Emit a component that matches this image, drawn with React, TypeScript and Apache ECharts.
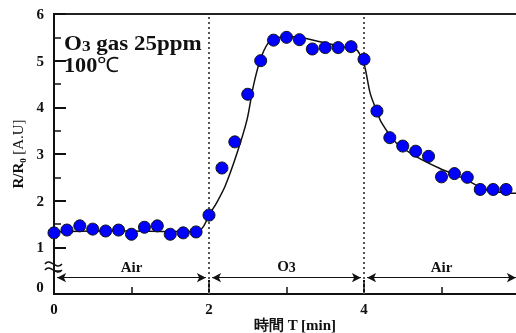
import React, { useEffect, useRef } from "react";
import * as echarts from "echarts";

const times = [0, 0.167, 0.333, 0.5, 0.667, 0.833, 1, 1.167, 1.333, 1.5, 1.667, 1.833, 2, 2.167, 2.333, 2.5, 2.667, 2.833, 3, 3.167, 3.333, 3.5, 3.667, 3.833, 4, 4.167, 4.333, 4.5, 4.667, 4.833, 5, 5.167, 5.333, 5.5, 5.667, 5.833];
const ratios = [1.31, 1.37, 1.46, 1.39, 1.35, 1.37, 1.28, 1.43, 1.46, 1.28, 1.31, 1.33, 1.69, 2.7, 3.26, 4.28, 5.0, 5.44, 5.5, 5.45, 5.25, 5.28, 5.28, 5.3, 5.03, 3.92, 3.35, 3.17, 3.06, 2.95, 2.51, 2.58, 2.5, 2.24, 2.24, 2.24];

const fitTimes = [0, 0.5, 1.0, 1.5, 1.85, 1.93, 2.0, 2.1, 2.21, 2.36, 2.49, 2.57, 2.66, 2.76, 2.85, 3.0, 3.2, 3.5, 3.75, 3.9, 3.95, 4.01, 4.08, 4.16, 4.23, 4.42, 4.68, 4.98, 5.28, 5.54, 5.75, 6.0];
const fitRatios = [1.33, 1.35, 1.35, 1.34, 1.34, 1.45, 1.69, 1.96, 2.32, 3.01, 3.73, 4.44, 5.01, 5.37, 5.47, 5.52, 5.49, 5.38, 5.29, 5.24, 5.12, 4.87, 4.3, 3.94, 3.66, 3.23, 2.94, 2.69, 2.48, 2.26, 2.18, 2.16];

const phaseNames = ["Air", "O3", "Air"];
const phaseStarts = [0, 2, 4];
const phaseEnds = [2, 4, 6];
const gasChanges = [2, 4];
const arrowLevel = 0.35;

const xTicks = [0, 2, 4];
const yTicks = [0, 1, 2, 3, 4, 5, 6];

const FONT = "'Liberation Serif', 'Times New Roman', serif";

export default function App() {
  const ref = useRef<HTMLDivElement>(null);
  useEffect(() => {
    if (!ref.current) return;
    const chart = echarts.init(ref.current, null, { renderer: "svg" });
    const labelRich = {
      o: { fontFamily: FONT, fontWeight: "bold", fontSize: 15, color: "#111" },
      s: { fontFamily: FONT, fontWeight: "bold", fontSize: 14, color: "#111", verticalAlign: "bottom", padding: [4, 0, 0, 0] },
    };
    const arrowData = phaseNames.map((n, i) => [
      {
        name: n,
        coord: [phaseStarts[i] + 0.04, arrowLevel],
        label: {
          show: true,
          position: "middle",
          distance: 3,
          formatter: n === "O3" ? "{o|O}{s|3}" : "{o|" + n + "}",
          rich: labelRich,
        },
      },
      { coord: [Math.min(phaseEnds[i] - 0.04, 5.995), arrowLevel] },
    ]);

    chart.setOption({
      animation: false,
      grid: {
        left: 54,
        top: 14,
        width: 465,
        height: 280,
        show: true,
        borderColor: "#222",
        borderWidth: 2,
        containLabel: false,
        outerBoundsMode: "none",
      },
      xAxis: {
        type: "value",
        min: 0,
        max: 6,
        interval: 2,
        axisLine: { show: true, onZero: false, lineStyle: { color: "#111", width: 2 } },
        axisTick: { show: true, inside: true, length: 14, lineStyle: { color: "#111", width: 2 } },
        minorTick: { show: true, splitNumber: 2, length: 7, lineStyle: { color: "#111", width: 1.5 } },
        splitLine: { show: false },
        axisLabel: {
          margin: 7,
          fontFamily: FONT,
          fontWeight: "bold",
          fontSize: 15,
          color: "#111",
          formatter: (v: number) => (xTicks.includes(v) ? String(v) : ""),
        },
      },
      yAxis: {
        type: "value",
        min: 0,
        max: 6,
        interval: 1,
        name: "{b|R/R\u2080} {r|[A.U]}",
        nameLocation: "middle",
        nameRotate: 90,
        nameGap: 26,
        nameTextStyle: {
          rich: {
            b: { fontFamily: FONT, fontWeight: "bold", fontSize: 15, color: "#111" },
            r: { fontFamily: FONT, fontWeight: "normal", fontSize: 15, color: "#111" },
          },
        },
        axisLine: { show: true, onZero: false, lineStyle: { color: "#111", width: 2 } },
        axisTick: { show: true, inside: true, length: 12, lineStyle: { color: "#111", width: 2 } },
        minorTick: { show: true, splitNumber: 2, length: 7, lineStyle: { color: "#111", width: 1.5 } },
        splitLine: { show: false },
        axisLabel: {
          margin: 10,
          fontFamily: FONT,
          fontWeight: "bold",
          fontSize: 15,
          color: "#111",
          formatter: (v: number) => (v === 0 || !yTicks.includes(v) ? "" : String(v)),
        },
      },
      graphic: [
        {
          type: "text",
          x: 40,
          y: 287,
          style: { text: "0", font: "bold 15px " + FONT, fill: "#111", align: "center", verticalAlign: "middle" },
        },
        {
          type: "group",
          children: [
            { type: "rect", shape: { x: 45, y: 259, width: 17, height: 15 }, style: { fill: "#fff" } },
            {
              type: "bezierCurve",
              shape: { x1: 45, y1: 264, cpx1: 50, cpy1: 257, cpx2: 56, cpy2: 271, x2: 62, y2: 264 },
              style: { stroke: "#111", lineWidth: 1.5, fill: null },
            },
            {
              type: "bezierCurve",
              shape: { x1: 45, y1: 270, cpx1: 50, cpy1: 263, cpx2: 56, cpy2: 277, x2: 62, y2: 270 },
              style: { stroke: "#111", lineWidth: 1.5, fill: null },
            },
          ],
        },
        {
          type: "text",
          x: 64,
          y: 33,
          scaleX: 1.15,
          style: {
            text: "{b|O}{s|3}{b| gas 25ppm}",
            rich: {
              b: { fontFamily: FONT, fontWeight: "bold", fontSize: 20, fill: "#111" },
              s: { fontFamily: FONT, fontWeight: "bold", fontSize: 15, fill: "#111", verticalAlign: "bottom" },
            },
          },
        },
        {
          type: "text",
          x: 64,
          y: 55,
          scaleX: 1.06,
          style: {
            text: "{b|100}{c|\u2103}",
            rich: {
              b: { fontFamily: FONT, fontWeight: "bold", fontSize: 21, fill: "#111" },
              c: { fontFamily: FONT, fontWeight: "normal", fontSize: 21, fill: "#111" },
            },
          },
        },
        {
          type: "text",
          x: 295,
          y: 325,
          style: { text: "時間 T [min]", font: "bold 15px " + FONT, fill: "#111", align: "center", verticalAlign: "middle" },
        },
      ],
      series: [
        {
          type: "line",
          data: fitTimes.map((t, i) => [t, fitRatios[i]]),
          smooth: 0.3,
          showSymbol: false,
          lineStyle: { color: "#111", width: 1.5 },
          z: 2,
          markLine: {
            silent: true,
            symbol: ["none", "none"],
            lineStyle: { color: "#555", type: [2, 3], width: 2 },
            label: { show: false },
            data: gasChanges.map((g) => ({ xAxis: g })),
          },
        },
        {
          type: "line",
          data: [],
          markLine: {
            silent: true,
            symbol: ["arrow", "arrow"],
            symbolSize: [7, 9],
            lineStyle: { color: "#111", type: "solid", width: 1.2 },
            data: arrowData,
          },
        },
        {
          type: "scatter",
          data: times.map((t, i) => [t, ratios[i]]),
          symbol: "circle",
          symbolSize: 12,
          itemStyle: { color: "#0000ff", borderColor: "#111", borderWidth: 1, opacity: 1 },
          z: 5,
        },
      ],
    });
    return () => chart.dispose();
  }, []);
  return <div ref={ref} style={{ position: "fixed", left: 0, top: 0, width: 516, height: 333 }} />;
}
